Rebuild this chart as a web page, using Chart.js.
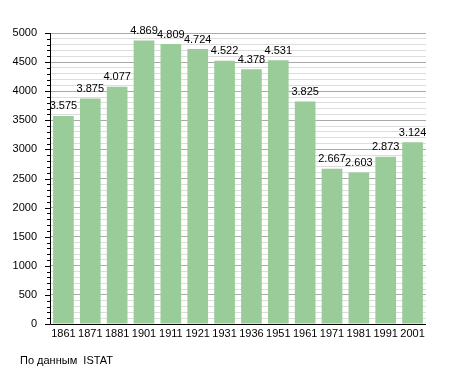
<!DOCTYPE html>
<html lang="ru">
<head>
<meta charset="UTF-8">
<title>Население</title>
<script src="https://cdn.jsdelivr.net/npm/chart.js@4"></script>
<style>
    body{ margin:0; background:#fff; }
    #wrap{ position:relative; width:455px; height:373px; }
    #note{ position:absolute; left:20px; top:354px; font:11px "Liberation Sans", Arial, sans-serif; color:#000; }
</style>
</head>
<body>
<div id="wrap">
    <canvas id="myChart" width="455" height="373"></canvas>
    <div id="note">По данным&nbsp; ISTAT</div>
</div>
<script>
// годы переписи
const years = ['1861','1871','1881','1901','1911','1921','1931','1936','1951','1961','1971','1981','1991','2001'];
// жители
const people = [3575, 3875, 4077, 4869, 4809, 4724, 4522, 4378, 4531, 3825, 2667, 2603, 2873, 3124];
const yMax = 5000;
const yStep = 100;

const fmt = v => String(v).replace(/\B(?=(\d{3})+(?!\d))/g, '.');

// подписи над столбцами + засечки оси Y
const extras = {
    id: 'extras',
    afterDatasetsDraw(chart){
        const ctx = chart.ctx;
        ctx.save();
        ctx.font = '11px "Liberation Sans", Arial, sans-serif';
        ctx.fillStyle = '#000';
        ctx.textAlign = 'center';
        ctx.textBaseline = 'bottom';
        chart.getDatasetMeta(0).data.forEach((bar, i) => {
            ctx.fillText(fmt(people[i]), bar.x, bar.y - 4);
        });
        // оси
        const a = chart.chartArea;
        const y = chart.scales.y;
        ctx.strokeStyle = '#000';
        ctx.lineWidth = 1;
        ctx.beginPath();
        ctx.moveTo(a.left + 0.5, a.top);
        ctx.lineTo(a.left + 0.5, a.bottom + 0.5);
        ctx.lineTo(a.right, a.bottom + 0.5);
        for(let v = 0; v <= yMax; v += yStep){
            const py = Math.round(y.getPixelForValue(v)) + 0.5;
            const len = v % 500 === 0 ? 5 : 3;
            ctx.moveTo(a.left - len, py);
            ctx.lineTo(a.left, py);
        }
        ctx.stroke();
        ctx.restore();
    }
};

const ctx = document.getElementById('myChart').getContext('2d');
const myChart = new Chart(ctx, {
    type: 'bar',
    data: {
        labels: years,
        datasets: [{
            data: people,
            backgroundColor: '#99cc99',
            borderWidth: 0,
            barPercentage: 0.77,
            categoryPercentage: 1
        }]
    },
    options: {
        responsive: false,
        animation: false,
        layout: { padding: { left: 0, top: 33, right: 29, bottom: 29 } },
        plugins: { legend: { display: false }, tooltip: { enabled: false } },
        scales: {
            x: {
                grid: { display: false, drawTicks: false },
                border: { display: false },
                ticks: { color: '#000', font: { family: 'Liberation Sans', size: 11 }, padding: 3, maxRotation: 0, autoSkip: false },
                afterFit: s => { s.height = 20; }
            },
            y: {
                min: 0,
                max: yMax,
                border: { display: false },
                grid: {
                    drawTicks: false,
                    color: c => (c.tick && c.tick.value % 500 === 0) ? '#aaaaaa' : '#dddddd'
                },
                ticks: {
                    stepSize: yStep,
                    autoSkip: false,
                    padding: 13,
                    color: '#000',
                    font: { family: 'Liberation Sans', size: 11 },
                    callback: v => v % 500 === 0 ? v : ''
                },
                afterFit: s => { s.width = 50; }
            }
        }
    },
    plugins: [extras]
});
</script>
</body>
</html>
